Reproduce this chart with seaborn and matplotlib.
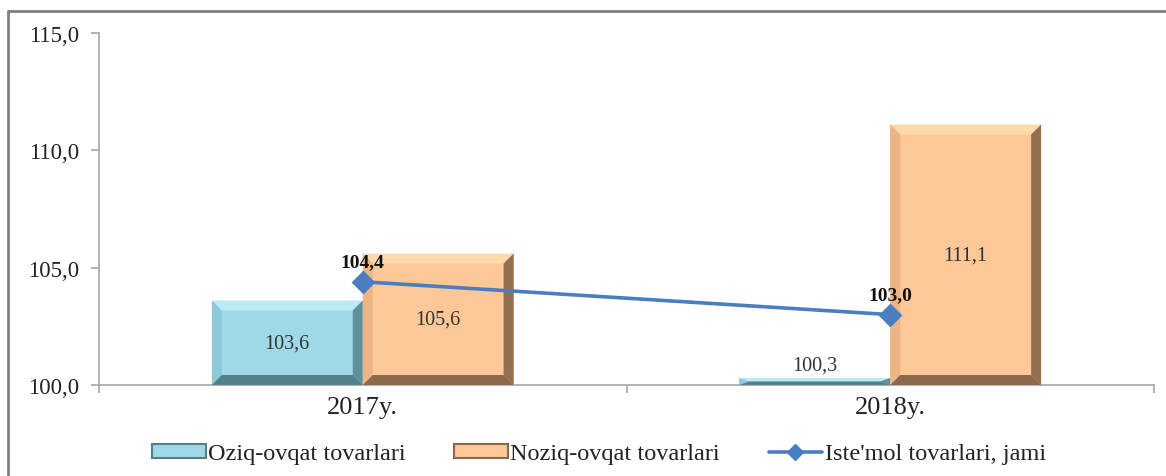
import matplotlib
matplotlib.use("Agg")
import matplotlib.pyplot as plt
from matplotlib.patches import Polygon, Patch
from matplotlib.lines import Line2D
from matplotlib.ticker import FuncFormatter, FixedLocator
import seaborn as sns
import pandas as pd

# ---- data ----
years = ["2017y.", "2018y."]
series_names = ["Oziq-ovqat tovarlari", "Noziq-ovqat tovarlari"]
food = [103.6, 100.3]
nonfood = [105.6, 111.1]
total_name = "Iste'mol tovarlari, jami"
total = [104.4, 103.0]
y_ticks = [100.0, 105.0, 110.0, 115.0]

df = pd.DataFrame({
    "year": years * 2,
    "series": [series_names[0]] * 2 + [series_names[1]] * 2,
    "value": food + nonfood,
})

sns.set_theme(style="white")
plt.rcParams["font.family"] = ["Liberation Serif", "DejaVu Serif"]

face = {series_names[0]: "#9FD8E7", series_names[1]: "#FCC897"}
bevel = {
    series_names[0]: dict(top="#BCE9F4", left="#8CCADA", right="#5F909B", bottom="#527F89"),
    series_names[1]: dict(top="#FEDAAC", left="#EDB584", right="#947050", bottom="#8A694D"),
}
line_color = "#4A7EC0"

W, H, DPI = 1166, 477, 100
fig = plt.figure(figsize=(W / DPI, H / DPI), dpi=DPI)
ax = fig.add_axes([99 / W, 1 - 386 / H, (1154 - 99) / W, (386 - 34) / H])

sns.barplot(data=df, x="year", y="value", hue="series", order=years,
            hue_order=series_names, palette=face, width=0.572,
            saturation=1, legend=False, ax=ax, linewidth=0, zorder=2)

ax.set_xlim(-0.5, 1.5)
ax.set_ylim(100, 115)

# pixel -> data scale
ax_w_px = (1154 - 99)
ax_h_px = (386 - 34)
px_x = 2.0 / ax_w_px
px_y = 15.0 / ax_h_px
bev = 10

ylo = ax.get_ylim()[0]
for name, cont in zip(series_names, ax.containers):
    cols = bevel[name]
    for rect in cont:
        x, w = rect.get_x(), rect.get_width()
        y0, hgt = rect.get_y(), rect.get_height()
        bot = max(y0, ylo)
        top = y0 + hgt
        dx = min(bev * px_x, w / 2)
        dy = min(bev * px_y, (top - bot) / 2)
        polys = [
            ([(x, top), (x + w, top), (x + w - dx, top - dy), (x + dx, top - dy)], cols["top"]),
            ([(x, bot), (x, top), (x + dx, top - dy), (x + dx, bot + dy)], cols["left"]),
            ([(x + w, bot), (x + w, top), (x + w - dx, top - dy), (x + w - dx, bot + dy)], cols["right"]),
            ([(x, bot), (x + w, bot), (x + w - dx, bot + dy), (x + dx, bot + dy)], cols["bottom"]),
        ]
        for pts, c in polys:
            ax.add_patch(Polygon(pts, closed=True, facecolor=c, edgecolor="none", zorder=3))
        # value label
        vis_h = top - bot
        lbl = f"{top:.1f}".replace(".", ",")
        if vis_h < 1.0:
            ax.text(x + w / 2, top + 0.15, lbl, ha="center", va="bottom",
                    fontsize=14.5, color="#333333", zorder=6)
        else:
            ax.text(x + w / 2, (top + bot) / 2, lbl, ha="center", va="center",
                    fontsize=14.5, color="#333333", zorder=6)

# total line
sns.pointplot(x=years, y=total, order=years, color=line_color, markers="D",
              errorbar=None, ax=ax, markersize=10, linewidth=2.6, zorder=7)
for coll in ax.lines:
    coll.set_zorder(7)
for i, v in enumerate(total):
    ax.text(i, v + 0.5, f"{v:.1f}".replace(".", ","), ha="center", va="bottom",
            fontsize=14, fontweight="bold", color="#111111", zorder=8)

ax.set_xlim(-0.5, 1.5)
ax.set_ylim(100, 115)
ax.set_xlabel("")
ax.set_ylabel("")

# axes styling
for s in ["top", "right"]:
    ax.spines[s].set_visible(False)
for s in ["left", "bottom"]:
    ax.spines[s].set_color("#A6A6A6")
    ax.spines[s].set_linewidth(1.2)
ax.yaxis.set_major_locator(FixedLocator(y_ticks))
ax.yaxis.set_major_formatter(FuncFormatter(lambda v, p: f"{v:.1f}".replace(".", ",")))
ax.tick_params(axis="y", which="major", left=True, length=6, width=1.2, color="#A6A6A6",
               labelsize=16.5, labelcolor="#222222", pad=8)
ax.set_xticks(range(len(years)))
ax.set_xticklabels(years)
ax.xaxis.set_minor_locator(FixedLocator([-0.5, 0.5, 1.5]))
ax.tick_params(axis="x", which="major", bottom=False, length=0, labelsize=19,
               labelcolor="#222222", pad=8)
ax.tick_params(axis="x", which="minor", bottom=True, length=6, width=1.2, color="#A6A6A6")

# legend
handles = [
    Patch(facecolor=face[series_names[0]], edgecolor=bevel[series_names[0]]["bottom"], linewidth=1.5),
    Patch(facecolor=face[series_names[1]], edgecolor=bevel[series_names[1]]["bottom"], linewidth=1.5),
    Line2D([0], [0], color=line_color, lw=2.6, marker="D", markersize=8),
]
fig.legend(handles, series_names + [total_name], loc="center",
           bbox_to_anchor=(599 / W, 1 - 455 / H), ncol=3, frameon=False,
           fontsize=17.5, handlelength=2.2, handleheight=0.5, handletextpad=0.1,
           columnspacing=2.0, labelcolor="#222222")

# outer frame (left and top edges visible)
fig.add_artist(Line2D([8 / W, 8 / W], [0, 1 - 12 / H], transform=fig.transFigure,
                      color="#808080", lw=2))
fig.add_artist(Line2D([8 / W, 1], [1 - 12 / H, 1 - 12 / H], transform=fig.transFigure,
                      color="#808080", lw=2))

fig.savefig("out.png", dpi=DPI)
